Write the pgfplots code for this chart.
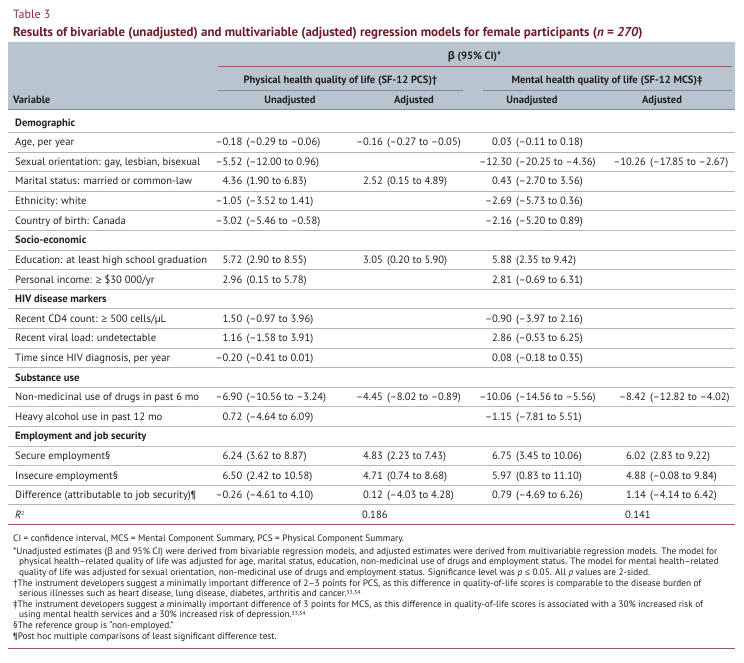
\documentclass[border=0pt]{standalone}
\usepackage{fontspec}
\setmainfont{PT Sans}
\newfontfamily\symf{Open Sans}
\usepackage{pgfplots}
\pgfplotsset{compat=1.18}
\definecolor{titlered}{HTML}{6F1A28}
\definecolor{tablered}{HTML}{8A2B3B}
\definecolor{rulered}{HTML}{9A5560}
\definecolor{headbg}{HTML}{B8C4CE}
\definecolor{headline}{HTML}{7E8B95}
\definecolor{sepgray}{HTML}{B5B5B5}
\definecolor{txt}{HTML}{231F20}
\newcommand{\bodyfont}{\fontsize{10.6}{12}\selectfont}
\newcommand{\notefont}{\fontsize{9.3}{10}\selectfont}
\newcommand{\sups}[1]{\raisebox{0.45ex}{\fontsize{5.8}{6}\selectfont #1}}
\pgfplotsset{
  est/.style={draw=none, mark=none, nodes near coords, point meta=explicit symbolic,
    nodes near coords align={anchor=base east},
    every node near coord/.append style={anchor=base east, inner sep=0pt, yshift=-3.7pt, font=\bodyfont, text=txt}},
  ci/.style={draw=none, mark=none, nodes near coords, point meta=explicit symbolic,
    nodes near coords align={anchor=base west},
    every node near coord/.append style={anchor=base west, inner sep=0pt, yshift=-3.7pt, font=\bodyfont, text=txt}},
}
\tikzset{
  lab/.style={anchor=base west, inner sep=0pt, yshift=-3.7pt, font=\bodyfont, text=txt},
  sec/.style={anchor=base west, inner sep=0pt, yshift=-3.7pt, font=\bodyfont\bfseries, text=txt},
  hd/.style={anchor=base, inner sep=0pt, yshift=-3.7pt, font=\bodyfont\bfseries, text=txt},
  nt/.style={anchor=base west, inner sep=0pt, yshift=-3.2pt, font=\notefont, text=txt},
}
\begin{document}
\begin{tikzpicture}
\begin{axis}[
  at={(0,0)}, anchor=south west,
  scale only axis, width=744pt, height=663pt,
  xmin=0, xmax=744, ymin=0, ymax=663, y dir=reverse,
  axis lines=none, ticks=none, clip=false,
]
% header band
\addplot[fill=headbg, draw=none] coordinates {(8,42) (735,42) (735,109.5) (8,109.5) (8,42)};
\addplot[headline, line width=0.6pt] coordinates {(8,109.5) (735,109.5)};
\addplot[rulered, line width=0.9pt] coordinates {(218,66) (732,66)};
\addplot[headline, line width=0.7pt] coordinates {(218,90) (463,90)};
\addplot[headline, line width=0.7pt] coordinates {(483,90) (732,90)};
% row separators
\pgfplotsinvokeforeach{132.3,151.9,171.5,191.1,210.7,230.3,249.9,269.5,289.1,308.7,328.3,347.9,367.5,387.1,406.7,426.3,445.9,465.5,485.1,504.7}{
  \addplot[sepgray, line width=0.6pt] coordinates {(8,#1) (735,#1)};
}
\addplot[rulered, line width=0.9pt] coordinates {(8,524.3) (735,524.3)};
\addplot[rulered, line width=0.9pt] coordinates {(8,648) (735,648)};

% PCS unadjusted
\addplot[est] coordinates {
 (242.5,142.1)[–0.18] (242.5,161.7)[–5.52] (242.5,181.3)[4.36] (242.5,200.9)[–1.05] (242.5,220.5)[–3.02]
 (242.5,259.7)[5.72] (242.5,279.3)[2.96]
 (242.5,318.5)[1.50] (242.5,338.1)[1.16] (242.5,357.7)[–0.20]
 (242.5,396.9)[–6.90] (242.5,416.5)[0.72]
 (242.5,455.7)[6.24] (242.5,475.3)[6.50] (242.5,494.9)[–0.26]};
\addplot[ci] coordinates {
 (246.5,142.1)[(–0.29 to –0.06)] (246.5,161.7)[(–12.00 to 0.96)] (246.5,181.3)[(1.90 to 6.83)] (246.5,200.9)[(–3.52 to 1.41)] (246.5,220.5)[(–5.46 to –0.58)]
 (246.5,259.7)[(2.90 to 8.55)] (246.5,279.3)[(0.15 to 5.78)]
 (246.5,318.5)[(–0.97 to 3.96)] (246.5,338.1)[(–1.58 to 3.91)] (246.5,357.7)[(–0.41 to 0.01)]
 (246.5,396.9)[(–10.56 to –3.24)] (246.5,416.5)[(–4.64 to 6.09)]
 (246.5,455.7)[(3.62 to 8.87)] (246.5,475.3)[(2.42 to 10.58)] (246.5,494.9)[(–4.61 to 4.10)]};
% PCS adjusted
\addplot[est] coordinates {
 (383,142.1)[–0.16] (383,181.3)[2.52] (383,259.7)[3.05] (383,396.9)[–4.45]
 (383,455.7)[4.83] (383,475.3)[4.71] (383,494.9)[0.12]};
\addplot[ci] coordinates {
 (387,142.1)[(–0.27 to –0.05)] (387,181.3)[(0.15 to 4.89)] (387,259.7)[(0.20 to 5.90)] (387,396.9)[(–8.02 to –0.89)]
 (387,455.7)[(2.23 to 7.43)] (387,475.3)[(0.74 to 8.68)] (387,494.9)[(–4.03 to 4.28)]};
\addplot[ci] coordinates {(362,514.5)[0.186]};
% MCS unadjusted
\addplot[est] coordinates {
 (512,142.1)[0.03] (512,161.7)[–12.30] (512,181.3)[0.43] (512,200.9)[–2.69] (512,220.5)[–2.16]
 (512,259.7)[5.88] (512,279.3)[2.81]
 (512,318.5)[–0.90] (512,338.1)[2.86] (512,357.7)[0.08]
 (512,396.9)[–10.06] (512,416.5)[–1.15]
 (512,455.7)[6.75] (512,475.3)[5.97] (512,494.9)[0.79]};
\addplot[ci] coordinates {
 (516,142.1)[(–0.11 to 0.18)] (516,161.7)[(–20.25 to –4.36)] (516,181.3)[(–2.70 to 3.56)] (516,200.9)[(–5.73 to 0.36)] (516,220.5)[(–5.20 to 0.89)]
 (516,259.7)[(2.35 to 9.42)] (516,279.3)[(–0.69 to 6.31)]
 (516,318.5)[(–3.97 to 2.16)] (516,338.1)[(–0.53 to 6.25)] (516,357.7)[(–0.18 to 0.35)]
 (516,396.9)[(–14.56 to –5.56)] (516,416.5)[(–7.81 to 5.51)]
 (516,455.7)[(3.45 to 10.06)] (516,475.3)[(0.83 to 11.10)] (516,494.9)[(–4.69 to 6.26)]};
% MCS adjusted
\addplot[est] coordinates {
 (646,161.7)[–10.26] (646,396.9)[–8.42] (646,455.7)[6.02] (646,475.3)[4.88] (646,494.9)[1.14]};
\addplot[ci] coordinates {
 (650,161.7)[(–17.85 to –2.67)] (650,396.9)[(–12.82 to –4.02)] (650,455.7)[(2.83 to 9.22)] (650,475.3)[(–0.08 to 9.84)] (650,494.9)[(–4.14 to 6.42)]};
\addplot[ci] coordinates {(625,514.5)[0.141]};

% titles
\node[anchor=base west, inner sep=0pt, yshift=-4pt, font=\fontsize{12}{14}\selectfont, text=tablered] at (axis cs:13,15) {Table 3};
\node[anchor=base west, inner sep=0pt, yshift=-4pt, font=\fontsize{12.9}{14}\selectfont\bfseries, text=titlered] at (axis cs:13,33) {Results of bivariable (unadjusted) and multivariable (adjusted) regression models for female participants (\textit{n} = \textit{270})};
% header
\node[hd] at (axis cs:474.5,56) {{\symf β} (95\% CI)*};
\node[hd] at (axis cs:340.5,79.5) {Physical health quality of life (SF-12 PCS)†};
\node[hd] at (axis cs:607,79.5) {Mental health quality of life (SF-12 MCS)‡};
\node[sec] at (axis cs:13,100) {Variable};
\node[hd] at (axis cs:290,100) {Unadjusted};
\node[hd] at (axis cs:414,100) {Adjusted};
\node[hd] at (axis cs:532,100) {Unadjusted};
\node[hd] at (axis cs:662,100) {Adjusted};
% row labels
\node[sec] at (axis cs:15,122.5) {Demographic};
\node[lab] at (axis cs:15,142.1) {Age, per year};
\node[lab] at (axis cs:15,161.7) {Sexual orientation: gay, lesbian, bisexual};
\node[lab] at (axis cs:15,181.3) {Marital status: married or common-law};
\node[lab] at (axis cs:15,200.9) {Ethnicity: white};
\node[lab] at (axis cs:15,220.5) {Country of birth: Canada};
\node[sec] at (axis cs:15,240.1) {Socio-economic};
\node[lab] at (axis cs:15,259.7) {Education: at least high school graduation};
\node[lab] at (axis cs:15,279.3) {Personal income: {\symf ≥} \$30 000/yr};
\node[sec] at (axis cs:15,298.9) {HIV disease markers};
\node[lab] at (axis cs:15,318.5) {Recent CD4 count: {\symf ≥} 500 cells/µL};
\node[lab] at (axis cs:15,338.1) {Recent viral load: undetectable};
\node[lab] at (axis cs:15,357.7) {Time since HIV diagnosis, per year};
\node[sec] at (axis cs:15,377.3) {Substance use};
\node[lab] at (axis cs:15,396.9) {Non-medicinal use of drugs in past 6 mo};
\node[lab] at (axis cs:15,416.5) {Heavy alcohol use in past 12 mo};
\node[sec] at (axis cs:15,436.1) {Employment and job security};
\node[lab] at (axis cs:15,455.7) {Secure employment§};
\node[lab] at (axis cs:15,475.3) {Insecure employment§};
\node[lab] at (axis cs:15,494.9) {Difference (attributable to job security)¶};
\node[lab] at (axis cs:15,514.5) {\textit{R}\sups{2}};
% footnotes
\node[nt] at (axis cs:13,538) {CI = confidence interval, MCS = Mental Component Summary, PCS = Physical Component Summary.};
\node[nt] at (axis cs:13,551) {*Unadjusted estimates ({\symf β} and 95\% CI) were derived from bivariable regression models, and adjusted estimates were derived from multivariable regression models. The model for};
\node[nt] at (axis cs:19,561.6) {physical health–related quality of life was adjusted for age, marital status, education, non-medicinal use of drugs and employment status. The model for mental health–related};
\node[nt] at (axis cs:19,572.2) {quality of life was adjusted for sexual orientation, non-medicinal use of drugs and employment status. Significance level was \textit{p} {\symf ≤} 0.05. All \textit{p} values are 2-sided.};
\node[nt] at (axis cs:13,582.8) {†The instrument developers suggest a minimally important difference of 2–3 points for PCS, as this difference in quality-of-life scores is comparable to the disease burden of};
\node[nt] at (axis cs:19,593.4) {serious illnesses such as heart disease, lung disease, diabetes, arthritis and cancer.\sups{33,34}};
\node[nt] at (axis cs:13,604) {‡The instrument developers suggest a minimally important difference of 3 points for MCS, as this difference in quality-of-life scores is associated with a 30\% increased risk of};
\node[nt] at (axis cs:19,614.6) {using mental health services and a 30\% increased risk of depression.\sups{33,34}};
\node[nt] at (axis cs:13,625.2) {§The reference group is “non-employed.”};
\node[nt] at (axis cs:13,635.8) {¶Post hoc multiple comparisons of least significant difference test.};
\end{axis}
\path (0,0) rectangle (744pt,663pt);
\end{tikzpicture}
\end{document}
